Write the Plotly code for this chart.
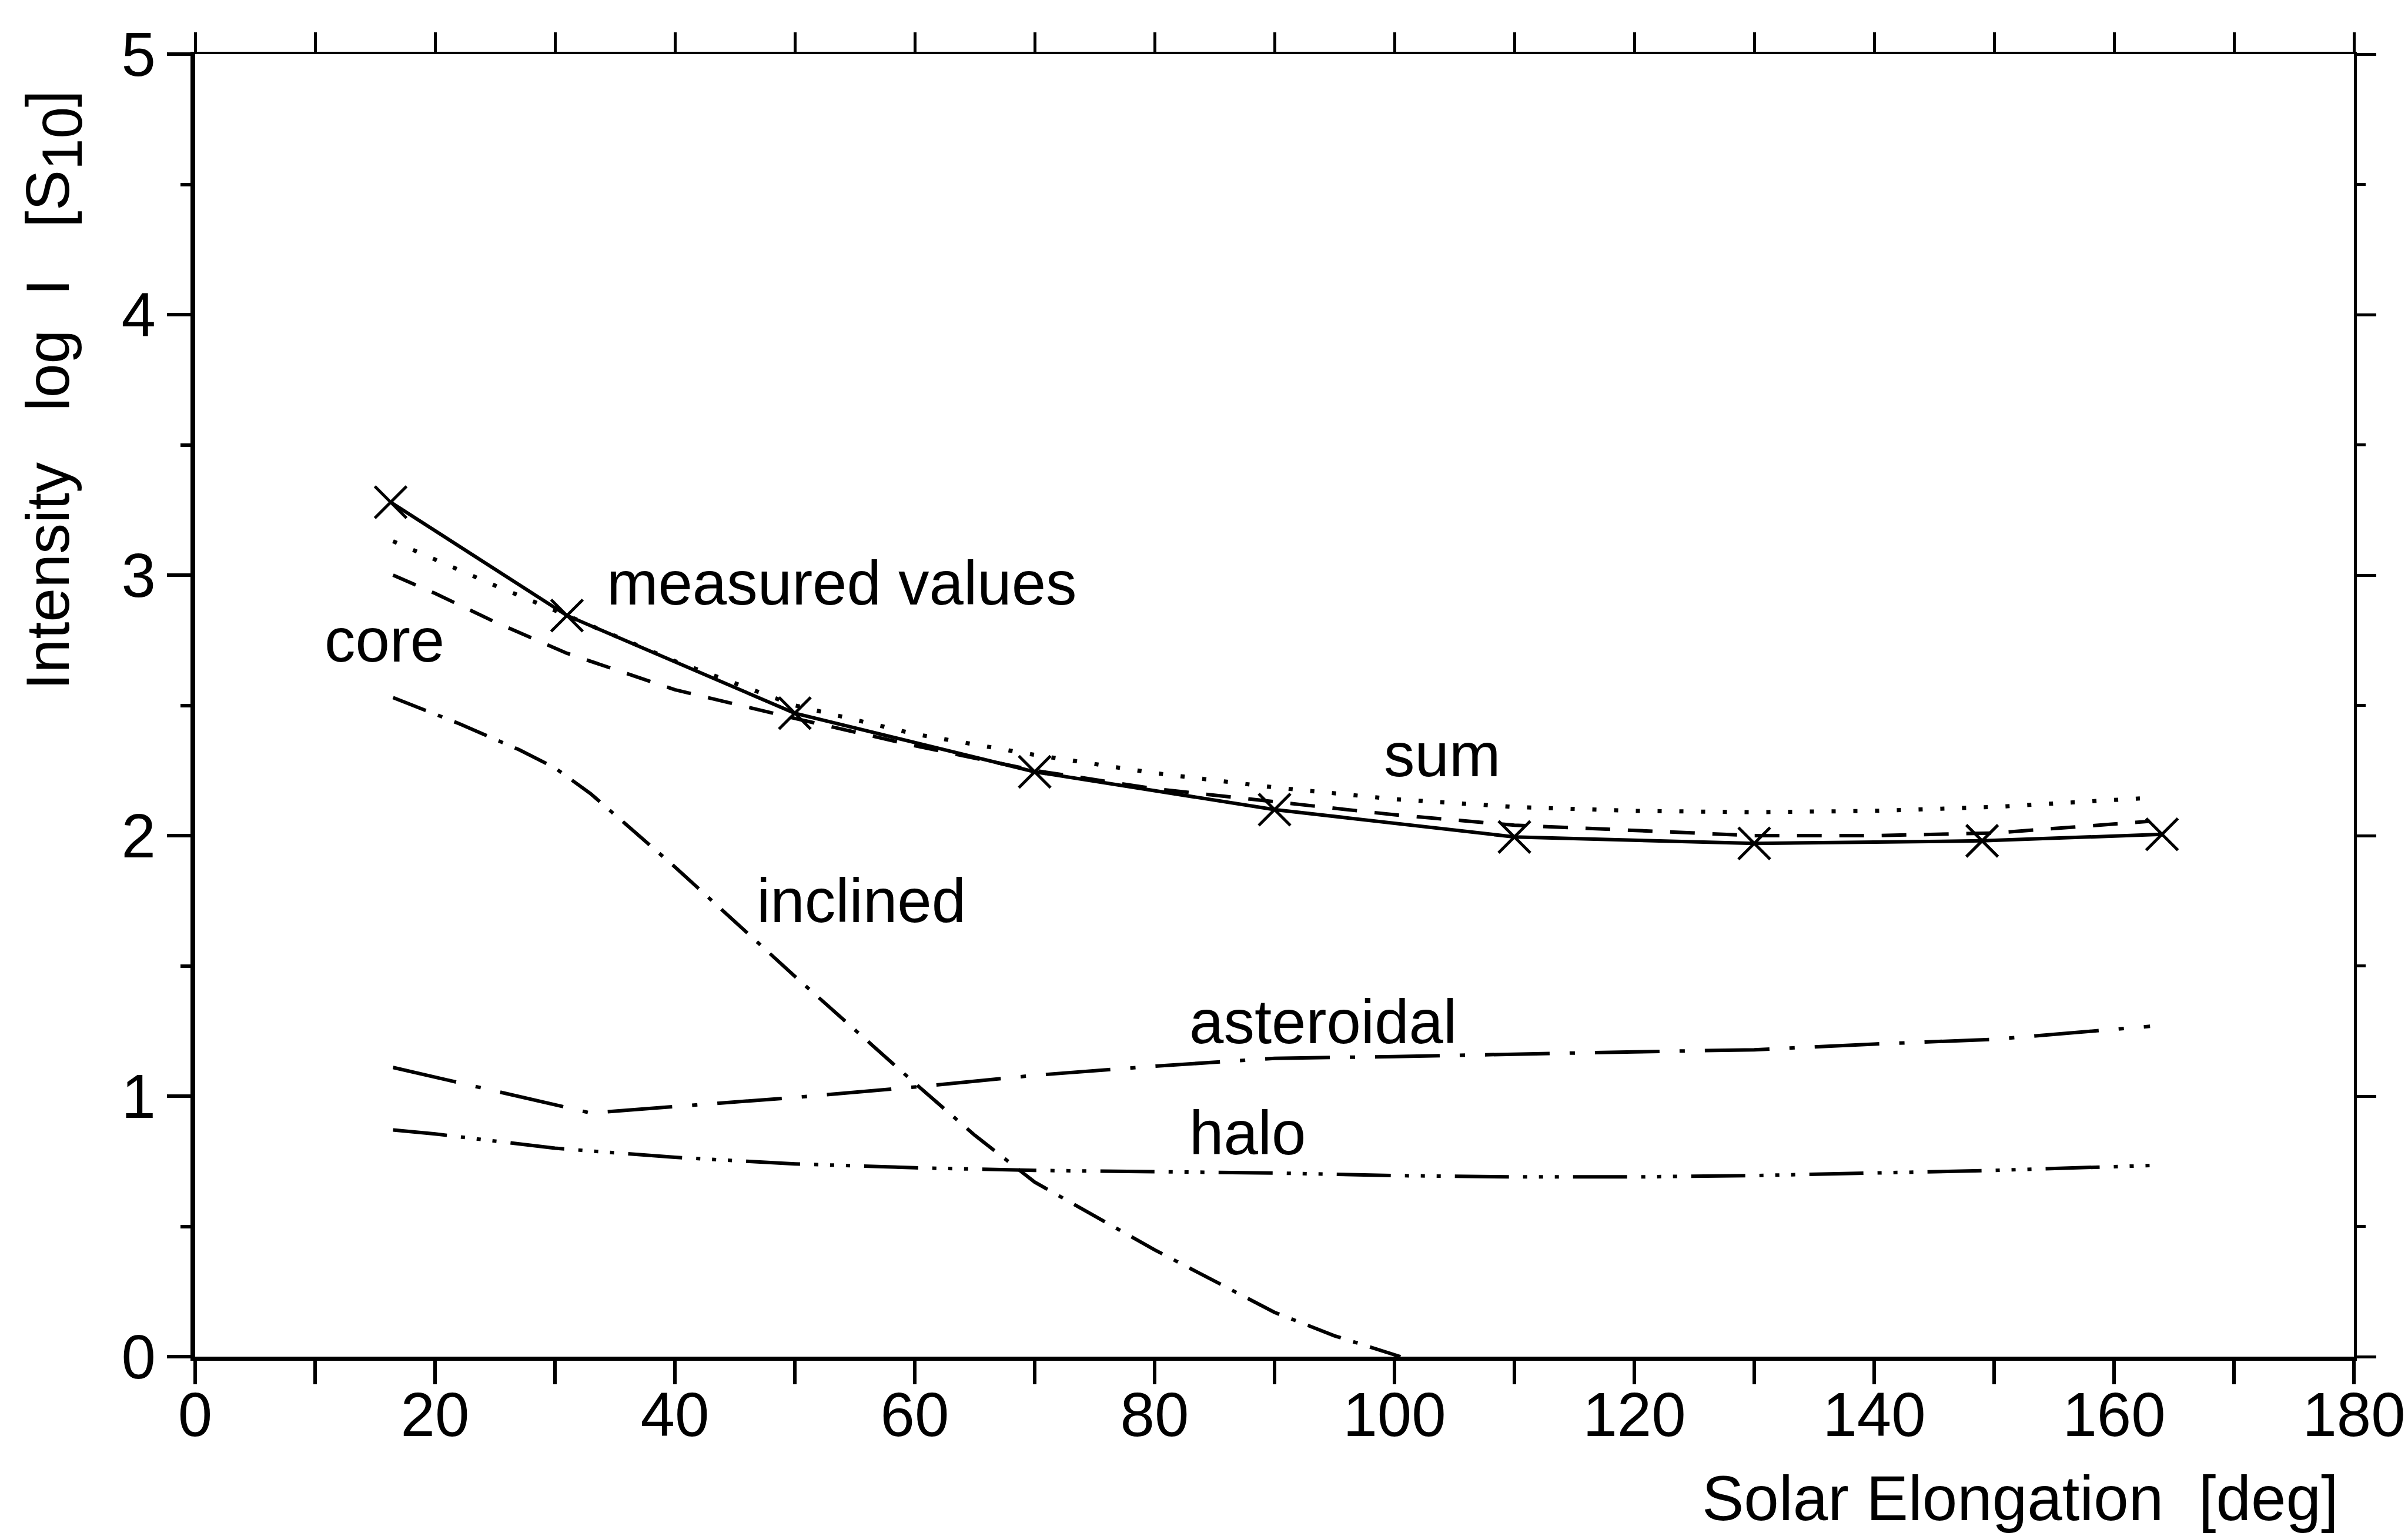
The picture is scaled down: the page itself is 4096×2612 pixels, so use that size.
import plotly.graph_objects as go

# ---------------- data ----------------
elong_meas = [16.3, 31.0, 50.0, 70.0, 90.0, 110.0, 130.0, 149.0, 164.0]
logI_meas = [3.28, 2.845, 2.47, 2.245, 2.10, 1.995, 1.97, 1.98, 2.005]

elong_model = [16.5, 20, 25, 31, 40, 50, 60, 70, 80, 90, 100, 110, 120, 130, 140, 150, 163]
logI_sum = [3.13, 3.06, 2.96, 2.845, 2.67, 2.50, 2.39, 2.31, 2.24, 2.185, 2.14, 2.11, 2.095, 2.09, 2.095, 2.11, 2.145]
logI_core = [3.00, 2.93, 2.82, 2.70, 2.56, 2.45, 2.345, 2.25, 2.18, 2.13, 2.08, 2.04, 2.02, 2.00, 2.00, 2.01, 2.055]

elong_incl = [16.5, 22, 27, 30, 33, 40, 50, 60, 65, 70, 80, 90, 95, 100.5]
logI_incl = [2.53, 2.43, 2.33, 2.26, 2.16, 1.88, 1.46, 1.05, 0.85, 0.67, 0.41, 0.17, 0.08, 0.0]

elong_ast = [16.5, 25, 33, 40, 50, 60, 70, 80, 90, 100, 110, 120, 130, 140, 150, 163]
logI_ast = [1.11, 1.02, 0.935, 0.96, 0.995, 1.035, 1.08, 1.115, 1.145, 1.152, 1.162, 1.17, 1.178, 1.20, 1.218, 1.268]

elong_halo = [16.5, 20, 30, 40, 50, 60, 70, 80, 90, 100, 110, 120, 130, 140, 150, 164]
logI_halo = [0.87, 0.855, 0.80, 0.765, 0.74, 0.725, 0.715, 0.71, 0.705, 0.695, 0.69, 0.69, 0.695, 0.705, 0.715, 0.735]

x_ticks = [0, 20, 40, 60, 80, 100, 120, 140, 160, 180]
y_ticks = [0, 1, 2, 3, 4, 5]

labels = ["measured values", "core", "sum", "inclined", "asteroidal", "halo"]
label_x = [34.2, 10.7, 99.0, 46.7, 82.8, 82.8]
label_y = [2.97, 2.75, 2.31, 1.75, 1.285, 0.86]

# ---------------- styling ----------------
TXT = "Liberation Sans, Arial, sans-serif"
LW = 6
NB = "\u00a0"

fig = go.Figure()

fig.add_trace(go.Scatter(x=elong_model, y=logI_sum, mode="lines",
                         line=dict(color="black", width=7, dash="7px,30px"), hoverinfo="skip"))
fig.add_trace(go.Scatter(x=elong_model, y=logI_core, mode="lines",
                         line=dict(color="black", width=LW, dash="42px,30px"), hoverinfo="skip"))
fig.add_trace(go.Scatter(x=elong_incl, y=logI_incl, mode="lines",
                         line=dict(color="black", width=LW, dash="60px,22px,8px,22px"), hoverinfo="skip"))
fig.add_trace(go.Scatter(x=elong_ast, y=logI_ast, mode="lines",
                         line=dict(color="black", width=LW, dash="110px,34px,9px,34px"), hoverinfo="skip"))
fig.add_trace(go.Scatter(x=elong_halo, y=logI_halo, mode="lines",
                         line=dict(color="black", width=LW, dash="92px,24px,7px,20px,7px,20px,7px,24px"),
                         hoverinfo="skip"))
fig.add_trace(go.Scatter(x=elong_meas, y=logI_meas, mode="lines+markers",
                         line=dict(color="black", width=LW),
                         marker=dict(symbol="x-thin-open", size=54, color="black",
                                     line=dict(color="black", width=5)),
                         hoverinfo="skip"))
# invisible trace to carry the mirrored top/right axes
fig.add_trace(go.Scatter(x=elong_meas, y=logI_meas, xaxis="x2", yaxis="y2", mode="markers",
                         marker=dict(opacity=0), hoverinfo="skip"))

for txt, lx, ly in zip(labels, label_x, label_y):
    fig.add_annotation(x=lx, y=ly, xref="x", yref="y", text=txt, showarrow=False,
                       xanchor="left", yanchor="middle",
                       font=dict(family=TXT, size=105, color="black"))

ytitle = ("Intensity" + NB * 3 + "log" + NB * 2 + "I" + NB * 3 +
          "[S<sub><span style='font-size:96px'>10</span></sub>]")
fig.add_annotation(x=-0.0654, y=0.742, xref="paper", yref="paper",
                   text=ytitle, textangle=-90, showarrow=False,
                   xanchor="center", yanchor="middle",
                   font=dict(family=TXT, size=104, color="black"))
fig.add_annotation(x=0.9935, y=-0.109, xref="paper", yref="paper",
                   text="Solar" + NB + "Elongation" + NB * 2 + "[deg]", showarrow=False,
                   xanchor="right", yanchor="middle",
                   font=dict(family=TXT, size=107, color="black"))

fig.update_layout(
    width=4096, height=2612, autosize=False,
    margin=dict(l=324, r=86, t=84, b=313),
    paper_bgcolor="white", plot_bgcolor="white",
    showlegend=False,
    xaxis=dict(range=[0, 180], tickvals=x_ticks, ticktext=[str(v) for v in x_ticks],
               ticks="outside", ticklen=40, tickwidth=5.5, tickcolor="black",
               minor=dict(dtick=10, ticks="outside", ticklen=40, tickwidth=5.5, tickcolor="black", showgrid=False),
               showline=True, linecolor="black", linewidth=7, showgrid=False, zeroline=False,
               tickfont=dict(family=TXT, size=105, color="black"), ticklabelstandoff=-38,
               ticklabeloverflow="allow"),
    yaxis=dict(range=[0, 5], tickvals=y_ticks, ticktext=[str(v) for v in y_ticks],
               ticks="outside", ticklen=40, tickwidth=5.5, tickcolor="black",
               minor=dict(dtick=0.5, ticks="outside", ticklen=17, tickwidth=5.5, tickcolor="black", showgrid=False),
               showline=True, linecolor="black", linewidth=8, showgrid=False, zeroline=False,
               tickfont=dict(family=TXT, size=105, color="black"), ticklabelstandoff=-2,
               ticklabeloverflow="allow"),
    xaxis2=dict(range=[0, 180], overlaying="x", side="top", anchor="y2",
                dtick=10, ticks="outside", ticklen=33, tickwidth=4.5, tickcolor="black",
                showticklabels=False, showline=True, linecolor="black", linewidth=4,
                showgrid=False, zeroline=False),
    yaxis2=dict(range=[0, 5], overlaying="y", side="right", anchor="x2",
                dtick=1, ticks="outside", ticklen=33, tickwidth=4.5, tickcolor="black",
                minor=dict(dtick=0.5, ticks="outside", ticklen=15, tickwidth=4.5, tickcolor="black", showgrid=False),
                showticklabels=False, showline=True, linecolor="black", linewidth=4.5,
                showgrid=False, zeroline=False),
)

fig.write_html("out.html")
